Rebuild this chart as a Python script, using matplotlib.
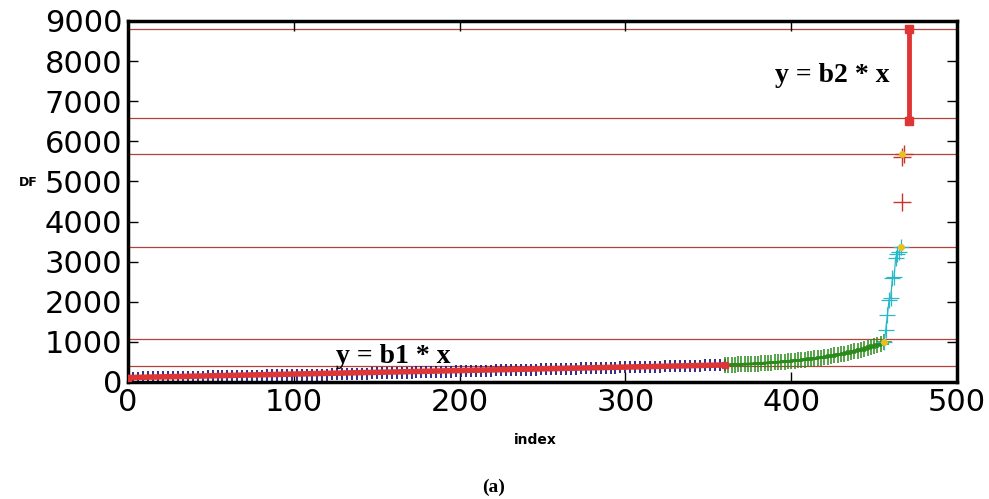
import matplotlib
matplotlib.use("Agg")
import matplotlib.pyplot as plt

# segment 1 (blue), index step 3
blue_x = list(range(0, 361, 3))
blue_y = [105, 108, 110, 112, 114, 116, 118, 120, 122, 124,
          126, 128, 130, 132, 134, 136, 138, 140, 142, 144,
          146, 148, 150, 152, 154, 156, 158, 160, 162, 164,
          166, 168, 170, 172, 174, 176, 178, 180, 182, 184,
          186, 188, 191, 194, 197, 200, 203, 206, 209, 212,
          215, 218, 221, 224, 227, 230, 233, 236, 239, 242,
          245, 248, 251, 254, 257, 260, 263, 266, 269, 272,
          275, 278, 281, 284, 287, 290, 293, 296, 299, 302,
          305, 308, 311, 314, 317, 320, 323, 326, 329, 332,
          335, 338, 341, 344, 347, 350, 353, 356, 359, 362,
          365, 368, 371, 374, 377, 380, 383, 386, 389, 392,
          395, 398, 401, 404, 407, 410, 413, 416, 419, 422,
          425]

# segment 2 (green), index step 2
green_x = list(range(360, 457, 2))
green_y = [425, 428, 431, 434, 437, 440, 444, 448, 452, 456,
           460, 465, 470, 476, 482, 488, 494, 500, 507, 514,
           521, 529, 537, 546, 555, 565, 575, 586, 597, 609,
           621, 634, 647, 661, 676, 692, 708, 725, 743, 762,
           782, 803, 825, 848, 872, 897, 923, 950, 985]

# segment 3 (cyan)
cyan_x = [456, 457, 458, 459, 460, 461, 462, 463, 464, 465, 466]
cyan_y = [1000, 1300, 1670, 2050, 2100, 2590, 2620, 3100, 3200, 3250, 3367]

# segment 4 (red plus)
red_x = [467, 467, 468]
red_y = [4480, 5600, 5686]

# fitted lines
fit1_x = [0, 360]
fit1_y = [110, 424]
fit2_x = [471, 471]
fit2_y = [6500, 8800]

# breakpoints
break_x = [456, 466, 467, 471]
break_y = [1000, 3367, 5686, 6583]
hlines = [8803, 6583, 5686, 3367, 1072, 399]

fig = plt.figure(figsize=(9.89, 4.99), dpi=100)
ax = fig.add_axes([0.1294, 0.2345, 0.8383, 0.7235])

for h in hlines:
    ax.axhline(h, color='#b5423a', lw=0.9, zorder=1)

ax.plot(blue_x, blue_y, color='#3b2f8f', lw=1, zorder=2)
ax.plot(blue_x, blue_y, linestyle='none', marker='+', color='#1c1c80',
        markersize=8, markeredgewidth=1.3, zorder=2)
ax.plot(green_x, green_y, color='#0a7a0a', lw=2, zorder=2)
ax.plot(green_x, green_y, linestyle='none', marker='+', color='#2a8a1a',
        markersize=11, markeredgewidth=1.1, zorder=2)
ax.plot(cyan_x, cyan_y, color='#2ab8c8', lw=0.9, marker='+',
        markersize=12, markeredgewidth=0.9, zorder=3)
ax.plot(red_x, red_y, linestyle='none', marker='+', color='#c8362a',
        markersize=13, markeredgewidth=1, zorder=3)
ax.plot(break_x, break_y, linestyle='none', marker='o', color='#e8c020',
        markersize=4, zorder=4)

ax.plot(fit1_x, fit1_y, color='#e03535', lw=4, marker='s', markersize=5, zorder=5)
ax.plot(fit2_x, fit2_y, color='#e03535', lw=3.5, marker='s', markersize=6, zorder=5)

ax.text(160, 640, 'y = b1 * x', family='Liberation Serif', weight='bold',
        fontsize=20, ha='center', va='center')
ax.text(425, 7650, 'y = b2 * x', family='Liberation Serif', weight='bold',
        fontsize=20, ha='center', va='center')

ax.set_xlim(0, 500)
ax.set_ylim(0, 9000)
ax.set_xticks([0, 100, 200, 300, 400, 500])
ax.set_yticks(range(0, 9001, 1000))
ax.tick_params(direction='in', length=7, width=1, labelsize=22,
               top=True, right=True, pad=4)
for s in ax.spines.values():
    s.set_linewidth(2.5)

fig.text(28 / 989, 1 - 183 / 499, 'DF', fontsize=9, weight='bold',
         ha='center', va='center')
fig.text(535 / 989, 1 - 440 / 499, 'index', fontsize=10, weight='bold',
         ha='center', va='center')
fig.text(494 / 989, 1 - 487 / 499, '(a)', family='Liberation Serif',
         fontsize=14, weight='bold', ha='center', va='center')

fig.savefig('out.png', dpi=100)
